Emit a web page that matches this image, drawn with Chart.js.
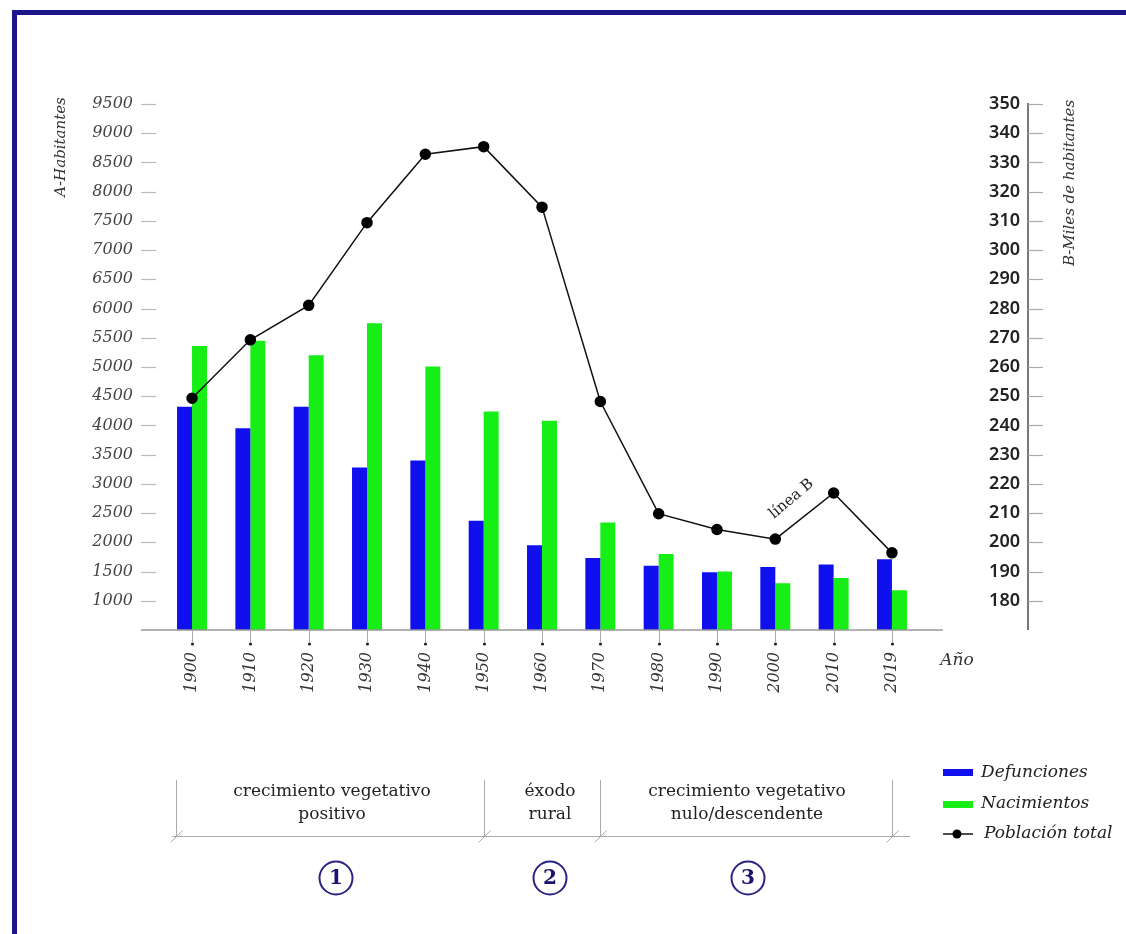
<!DOCTYPE html>
<html>
<head>
<meta charset="utf-8">
<script src="https://cdn.jsdelivr.net/npm/chart.js@4"></script>
<style>
  html, body { margin: 0; padding: 0; background: #fff; overflow: hidden; }
  #wrap { position: relative; width: 1126px; height: 934px; }
  #frame { position: absolute; left: 12px; top: 10px; width: 1130px; height: 940px; border: 5px solid #1c1488; box-sizing: border-box; }
  #chart { position: absolute; left: 0; top: 0; }
</style>
</head>
<body>
<div id="wrap">
  <div id="frame"></div>
  <canvas id="chart" width="1126" height="934"></canvas>
</div>
<script>
// Data
const years = ["1900", "1910", "1920", "1930", "1940", "1950", "1960", "1970", "1980", "1990", "2000", "2010", "2019"];
const defunciones = [4320, 3950, 4320, 3280, 3400, 2370, 1950, 1730, 1600, 1490, 1580, 1620, 1710];
const nacimientos = [5360, 5450, 5200, 5750, 5010, 4240, 4080, 2340, 1800, 1500, 1300, 1390, 1180];
const poblacion = [249.3, 269.3, 281.1, 309.4, 332.8, 335.4, 314.7, 248.2, 209.8, 204.4, 201.1, 216.9, 196.4];

const leftTicks = [1000, 1500, 2000, 2500, 3000, 3500, 4000, 4500, 5000, 5500, 6000, 6500, 7000, 7500, 8000, 8500, 9000, 9500];
const rightTicks = [180, 190, 200, 210, 220, 230, 240, 250, 260, 270, 280, 290, 300, 310, 320, 330, 340, 350];

const SERIF = "'DejaVu Serif', 'Liberation Serif', serif";

const toPoints = arr => arr.map((v, i) => ({ x: i, y: v }));

// Extra drawing: axis lines, titles, brackets, legend
const decorations = {
  id: "decorations",
  afterDraw(chart) {
    const ctx = chart.ctx;
    const area = chart.chartArea;
    const xs = chart.scales.x;
    const yl = chart.scales.y;
    const yr = chart.scales.y2;

    ctx.save();

    // x axis line + ticks + dots
    ctx.strokeStyle = "#999";
    ctx.lineWidth = 1.5;
    ctx.beginPath();
    ctx.moveTo(area.left, area.bottom);
    ctx.lineTo(area.right, area.bottom);
    ctx.stroke();
    ctx.lineWidth = 1;
    years.forEach((y, i) => {
      const px = Math.round(xs.getPixelForValue(i)) + 0.5;
      ctx.strokeStyle = "#aaa";
      ctx.beginPath();
      ctx.moveTo(px, area.bottom);
      ctx.lineTo(px, area.bottom + 12);
      ctx.stroke();
      ctx.fillStyle = "#222";
      ctx.beginPath();
      ctx.arc(px, area.bottom + 14, 1.6, 0, Math.PI * 2);
      ctx.fill();
    });

    // left tick marks (inside)
    ctx.strokeStyle = "#bbb";
    ctx.lineWidth = 1.2;
    leftTicks.forEach(v => {
      const py = Math.round(yl.getPixelForValue(v)) + 0.5;
      ctx.beginPath();
      ctx.moveTo(area.left, py);
      ctx.lineTo(area.left + 15, py);
      ctx.stroke();
    });

    // right axis line + ticks
    const rx = area.right + 85;
    ctx.strokeStyle = "#777";
    ctx.lineWidth = 2;
    ctx.beginPath();
    ctx.moveTo(rx, yr.getPixelForValue(350) - 1);
    ctx.lineTo(rx, area.bottom);
    ctx.stroke();
    ctx.strokeStyle = "#aaa";
    ctx.lineWidth = 1.2;
    rightTicks.forEach(v => {
      const py = Math.round(yr.getPixelForValue(v)) + 0.5;
      ctx.beginPath();
      ctx.moveTo(rx, py);
      ctx.lineTo(rx + 15, py);
      ctx.stroke();
    });

    // axis titles
    ctx.fillStyle = "#333";
    ctx.font = "italic 15px " + SERIF;
    ctx.textAlign = "center";
    ctx.textBaseline = "middle";
    ctx.save();
    ctx.translate(61, 147);
    ctx.rotate(-Math.PI / 2);
    ctx.fillText("A-Habitantes", 0, 0);
    ctx.restore();
    ctx.save();
    ctx.translate(1070, 183);
    ctx.rotate(-Math.PI / 2);
    ctx.fillText("B-Miles de habitantes", 0, 0);
    ctx.restore();

    ctx.font = "italic 17px " + SERIF;
    ctx.fillText("Año", 957, 661);

    // "línea B" label next to 2000-2010 segment
    const lx = (xs.getPixelForValue(10) + xs.getPixelForValue(11)) / 2 - 13;
    const ly = (yr.getPixelForValue(poblacion[10]) + yr.getPixelForValue(poblacion[11])) / 2 - 17;
    ctx.save();
    ctx.translate(lx, ly);
    ctx.rotate(-40 * Math.PI / 180);
    ctx.font = "15px " + SERIF;
    ctx.fillStyle = "#222";
    ctx.fillText("línea B", 0, 0);
    ctx.restore();

    // phase brackets
    const bounds = [xs.getPixelForValue(-0.28), xs.getPixelForValue(5), xs.getPixelForValue(7), xs.getPixelForValue(12)];
    const by = 836.5;
    ctx.strokeStyle = "#aaa";
    ctx.lineWidth = 1;
    ctx.beginPath();
    ctx.moveTo(172, by);
    ctx.lineTo(910, by);
    ctx.stroke();
    bounds.forEach(b => {
      const bx = Math.round(b) + 0.5;
      ctx.beginPath();
      ctx.moveTo(bx, 780);
      ctx.lineTo(bx, by);
      ctx.moveTo(bx - 6, by + 6);
      ctx.lineTo(bx + 6, by - 6);
      ctx.stroke();
    });

    ctx.fillStyle = "#222";
    ctx.font = "17px " + SERIF;
    ctx.fillText("crecimiento vegetativo", 332, 792);
    ctx.fillText("positivo", 332, 815);
    ctx.fillText("éxodo", 550, 792);
    ctx.fillText("rural", 550, 815);
    ctx.fillText("crecimiento vegetativo", 747, 792);
    ctx.fillText("nulo/descendente", 747, 815);

    // numbered circles
    [[336, "1"], [550, "2"], [748, "3"]].forEach(([cx, n]) => {
      ctx.strokeStyle = "#2a2382";
      ctx.lineWidth = 2;
      ctx.beginPath();
      ctx.arc(cx, 878, 16.5, 0, Math.PI * 2);
      ctx.stroke();
      ctx.fillStyle = "#1a1470";
      ctx.font = "bold 20px " + SERIF;
      ctx.fillText(n, cx, 879);
    });

    // legend
    ctx.textAlign = "left";
    ctx.font = "italic 17px " + SERIF;
    ctx.fillStyle = "#1010ee";
    ctx.fillRect(943, 769, 30, 7);
    ctx.fillStyle = "#16ee16";
    ctx.fillRect(943, 801, 30, 7);
    ctx.strokeStyle = "#111";
    ctx.lineWidth = 1.5;
    ctx.beginPath();
    ctx.moveTo(943, 834);
    ctx.lineTo(973, 834);
    ctx.stroke();
    ctx.fillStyle = "#000";
    ctx.beginPath();
    ctx.arc(957, 834, 4.5, 0, Math.PI * 2);
    ctx.fill();
    ctx.fillStyle = "#222";
    ctx.fillText("Defunciones", 981, 773);
    ctx.fillText("Nacimientos", 981, 804);
    ctx.fillText("Población total", 984, 834);

    ctx.restore();
  }
};

const chart = new Chart(document.getElementById("chart"), {
  type: "bar",
  data: {
    datasets: [
      {
        type: "line",
        label: "Población total",
        data: toPoints(poblacion),
        yAxisID: "y2",
        borderColor: "#111",
        borderWidth: 1.5,
        pointRadius: 5,
        pointBackgroundColor: "#000",
        pointBorderColor: "#000",
        tension: 0,
        order: 0
      },
      {
        label: "Defunciones",
        data: toPoints(defunciones),
        yAxisID: "y",
        backgroundColor: "#1010ee",
        categoryPercentage: 0.514,
        barPercentage: 1,
        order: 1
      },
      {
        label: "Nacimientos",
        data: toPoints(nacimientos),
        yAxisID: "y",
        backgroundColor: "#16ee16",
        categoryPercentage: 0.514,
        barPercentage: 1,
        order: 1
      }
    ]
  },
  options: {
    responsive: false,
    animation: false,
    layout: { padding: { top: 104, right: 106, left: 0, bottom: 0 } },
    plugins: {
      legend: { display: false },
      tooltip: { enabled: false }
    },
    scales: {
      x: {
        type: "linear",
        offset: false,
        min: -0.875,
        max: 12.875,
        grid: { display: false, drawTicks: false, offset: false },
        border: { display: false },
        afterBuildTicks: s => { s.ticks = years.map((_, i) => ({ value: i })); },
        afterFit: s => { s.height = 304; },
        ticks: {
          autoSkip: false,
          minRotation: 90,
          maxRotation: 90,
          padding: 22,
          color: "#333",
          font: { family: SERIF, style: "italic", size: 16 },
          callback: v => years[v]
        }
      },
      y: {
        position: "left",
        min: 500,
        max: 9500,
        grid: { display: false, drawTicks: false },
        border: { display: false },
        afterBuildTicks: s => { s.ticks = leftTicks.map(v => ({ value: v })); },
        afterFit: s => { s.width = 141; },
        ticks: {
          padding: 8,
          color: "#444",
          font: { family: SERIF, style: "italic", size: 16 },
          callback: v => String(v)
        }
      },
      y2: {
        position: "right",
        min: 170,
        max: 350,
        grid: { display: false, drawTicks: false },
        border: { display: false },
        afterBuildTicks: s => { s.ticks = rightTicks.map(v => ({ value: v })); },
        afterFit: s => { s.width = 77; },
        ticks: {
          crossAlign: "far",
          color: "#222",
          font: { family: "'Noto Sans', 'DejaVu Sans', sans-serif", weight: "600", size: 18 },
          callback: v => String(v)
        }
      }
    }
  },
  plugins: [decorations]
});
</script>
</body>
</html>
